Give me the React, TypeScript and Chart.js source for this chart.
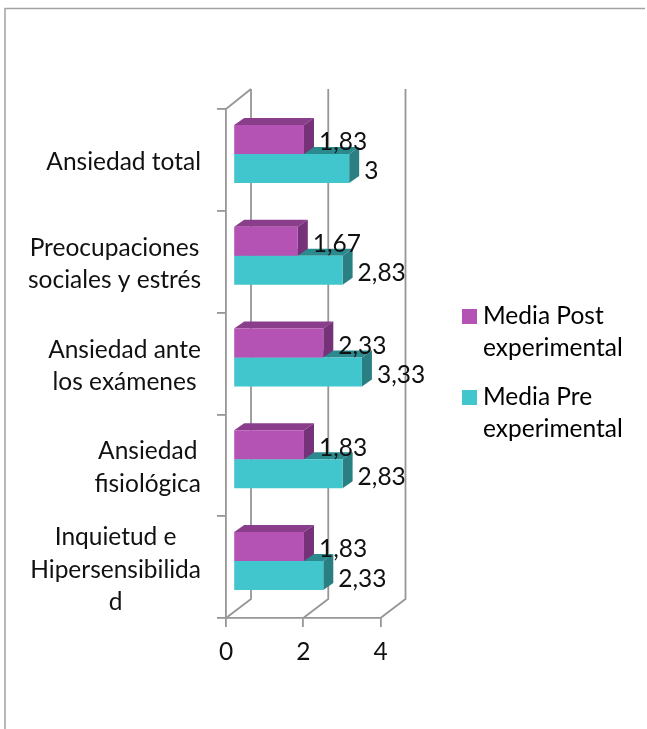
import React, { useEffect, useRef } from "react";
import { Chart, registerables } from "chart.js";

Chart.register(...registerables);

const categories = [
  ["Ansiedad total"],
  ["Preocupaciones", "sociales y estrés"],
  ["Ansiedad ante", "los exámenes"],
  ["Ansiedad", "fisiológica"],
  ["Inquietud e", "Hipersensibilida", "d"],
];
const mediaPost = [1.83, 1.67, 2.33, 1.83, 1.83];
const mediaPre = [3, 2.83, 3.33, 2.83, 2.33];
const seriesNames = [
  ["Media Post", "experimental"],
  ["Media Pre", "experimental"],
];
const seriesColors = ["#B553B5", "#40C6CC"];
const FONT = "Lato, Carlito, Calibri, sans-serif";
const FONT_SIZE = 24.5;
const AXIS = "#969696";
const DEPTH_X = 25, DEPTH_Y = 19;      // wall depth
const BAR_SHIFT_X = 7.3, BAR_SHIFT_Y = 6; // bars sit inside the wall
const BAR_DX = 10, BAR_DY = 7;         // bar depth
const LABEL_RIGHT = 201;               // right edge of each category label block
const faces = [
  { top: "#8A3D8B", side: "#763279" },
  { top: "#2A8A8E", side: "#2A7F83" },
];

function swatch(color: string) {
  const c = document.createElement("canvas");
  c.width = 15;
  c.height = 15;
  const g = c.getContext("2d")!;
  g.fillStyle = color;
  g.fillRect(0, 0, 15, 15);
  return c;
}

const threeD = {
  id: "threeD",
  beforeDraw(chart: any) {
    const { ctx, width, height } = chart;
    ctx.save();
    ctx.fillStyle = "#fff";
    ctx.fillRect(0, 0, width, height);
    ctx.lineWidth = 1.5;
    ctx.strokeStyle = "#a3a3a3";
    ctx.beginPath();
    ctx.moveTo(5, height);
    ctx.lineTo(5, 8.5);
    ctx.lineTo(645, 8.5);
    ctx.stroke();
    // each category label block is centred on itself and right-aligned as a block
    chart.scales.y.getLabelItems().forEach((item: any) => {
      ctx.font = item.font.string;
      const lines: string[] = [].concat(item.label);
      const widest = Math.max(...lines.map((s) => ctx.measureText(s).width));
      if (!item.shifted) {
        item.options.translation = [LABEL_RIGHT - widest / 2, item.options.translation[1] + 2.5];
        item.shifted = true;
      }
    });
    ctx.restore();
  },
  afterLayout(chart: any) {
    const l = chart.legend;
    l.left = 451.25;
    l.right = 647;
    l.top = 287;
    l.bottom = 450;
  },
  beforeDatasetsDraw(chart: any) {
    const { ctx, chartArea, scales } = chart;
    const { left, top, bottom } = chartArea;
    ctx.save();
    ctx.strokeStyle = AXIS;
    ctx.lineWidth = 1.8;
    ctx.beginPath();
    ctx.moveTo(left, top);
    ctx.lineTo(left + DEPTH_X, top - DEPTH_Y - 1);
    scales.x.ticks.forEach((t: any) => {
      const x = scales.x.getPixelForValue(t.value);
      ctx.moveTo(x, bottom);
      ctx.lineTo(x + DEPTH_X, bottom - DEPTH_Y);
      ctx.lineTo(x + DEPTH_X, top - DEPTH_Y - 1);
    });
    ctx.stroke();
    ctx.restore();
  },
  beforeDatasetDraw(chart: any, args: any) {
    const { ctx } = chart;
    ctx.save();
    ctx.translate(BAR_SHIFT_X, -BAR_SHIFT_Y);
    const f = faces[args.index];
    chart.getDatasetMeta(args.index).data.forEach((b: any) => {
      const { x, y, base, height } = b.getProps(["x", "y", "base", "height"]);
      const t = y - height / 2, u = y + height / 2;
      ctx.fillStyle = f.top;
      ctx.beginPath();
      ctx.moveTo(base, t);
      ctx.lineTo(base + BAR_DX, t - BAR_DY);
      ctx.lineTo(x + BAR_DX, t - BAR_DY);
      ctx.lineTo(x, t);
      ctx.closePath();
      ctx.fill();
      ctx.fillStyle = f.side;
      ctx.beginPath();
      ctx.moveTo(x, t);
      ctx.lineTo(x + BAR_DX, t - BAR_DY);
      ctx.lineTo(x + BAR_DX, u - BAR_DY);
      ctx.lineTo(x, u);
      ctx.closePath();
      ctx.fill();
    });
  },
  afterDatasetDraw(chart: any) {
    chart.ctx.restore();
  },
  afterDatasetsDraw(chart: any) {
    const { ctx, data } = chart;
    ctx.save();
    ctx.font = `${FONT_SIZE}px ${FONT}`;
    ctx.fillStyle = "#111";
    ctx.textAlign = "left";
    ctx.textBaseline = "middle";
    [1, 0].forEach((i) => {
      chart.getDatasetMeta(i).data.forEach((b: any, j: number) => {
        const label = String(data.datasets[i].data[j]).replace(".", ",");
        ctx.fillText(label, b.x + BAR_SHIFT_X + 15, b.y - BAR_SHIFT_Y + 3);
      });
    });
    ctx.restore();
  },
};

export default function App() {
  const ref = useRef<HTMLCanvasElement>(null);
  useEffect(() => {
    const chart = new Chart(ref.current!, {
      type: "bar",
      data: {
        labels: categories as any,
        datasets: [
          { label: seriesNames[0].join(" "), data: mediaPost, backgroundColor: seriesColors[0], clip: false as any },
          { label: seriesNames[1].join(" "), data: mediaPre, backgroundColor: seriesColors[1], clip: false as any },
        ],
      },
      plugins: [threeD],
      options: {
        indexAxis: "y",
        responsive: false,
        animation: false,
        layout: { autoPadding: false, padding: { top: 109, left: 0, right: 166.5, bottom: 0 } },
        datasets: { bar: { barPercentage: 1, categoryPercentage: 0.57 } },
        plugins: {
          tooltip: { enabled: false },
          title: { display: false },
          legend: {
            position: "right",
            align: "start",
            maxWidth: 100,
            onClick: () => {},
            labels: {
              usePointStyle: true,
              pointStyleWidth: 2.5,
              boxHeight: 15,
              padding: 17,
              color: "#111",
              font: { family: FONT, size: FONT_SIZE, lineHeight: 1.31 },
              generateLabels: () =>
                seriesNames.map((t, i) => ({
                  text: t as any,
                  fillStyle: seriesColors[i],
                  strokeStyle: "transparent",
                  lineWidth: 0,
                  pointStyle: swatch(seriesColors[i]),
                  datasetIndex: i,
                })),
            },
          },
        },
        scales: {
          x: {
            min: 0,
            max: 4,
            ticks: { stepSize: 2, color: "#111", font: { family: FONT, size: FONT_SIZE }, padding: 10, maxRotation: 0 },
            grid: { drawOnChartArea: false, color: AXIS, lineWidth: 1.8, tickLength: 9 },
            border: { color: AXIS, width: 1.8 },
            afterFit: (s: any) => { s.height = 111; },
          },
          y: {
            ticks: {
              color: "#111",
              crossAlign: "center",
              padding: 16,
              autoSkip: false,
              font: { family: FONT, size: FONT_SIZE, lineHeight: 1.33 },
            },
            grid: { drawOnChartArea: false, color: AXIS, lineWidth: 1.8, tickLength: 9 },
            border: { color: AXIS, width: 1.8 },
            afterFit: (s: any) => { s.width = 226; },
          },
        },
      } as any,
    });
    return () => chart.destroy();
  }, []);
  return (
    <div style={{ position: "fixed", left: 0, top: 0, width: 647, height: 729, background: "#fff" }}>
      <canvas ref={ref} width={647} height={729} style={{ display: "block", width: 647, height: 729 }} />
    </div>
  );
}
